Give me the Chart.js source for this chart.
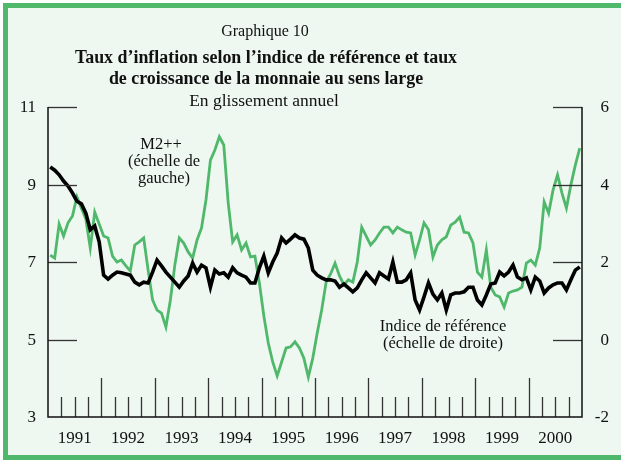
<!DOCTYPE html>
<html>
<head>
<meta charset="utf-8">
<script src="https://cdn.jsdelivr.net/npm/chart.js@4.4.1/dist/chart.umd.min.js"></script>
<style>
html,body{margin:0;padding:0;background:#fff;}
#wrap{position:relative;width:621px;height:460px;}
canvas{display:block;}
</style>
</head>
<body>
<div id="wrap"><canvas id="c" width="621" height="460"></canvas></div>
<script>
// ---- data ----
const years = [1991,1992,1993,1994,1995,1996,1997,1998,1999,2000];
const monthsPerYear = 12;
const leftTicks = [3,5,7,9,11];
const rightTicks = [-2,0,2,4,6];

// M2++ growth (left scale), monthly Jan 1991 - Dec 2000
const m2pp = [
 7.18,7.10,7.98,7.67,8.01,8.19,8.68,8.39,8.11,7.36,8.29,7.98,
 7.67,7.62,7.15,7.00,7.05,6.90,6.77,7.44,7.52,7.62,6.79,6.02,
 5.76,5.68,5.32,6.02,6.92,7.62,7.49,7.26,7.10,7.57,7.88,8.60,
 9.63,9.89,10.23,10.02,8.52,7.52,7.70,7.31,7.49,7.13,7.15,6.46,
 5.61,4.91,4.42,4.06,4.42,4.78,4.81,4.94,4.78,4.52,4.03,4.52,
 5.17,5.76,6.48,6.69,6.97,6.64,6.41,6.54,6.48,7.00,7.90,7.67,
 7.44,7.57,7.75,7.90,7.90,7.75,7.90,7.83,7.77,7.75,7.18,7.57,
 8.01,7.83,7.13,7.44,7.57,7.65,7.95,8.03,8.16,7.77,7.75,7.49,
 6.74,6.61,7.31,6.35,6.15,6.10,5.84,6.20,6.25,6.28,6.35,6.97,
 7.05,6.92,7.36,8.55,8.26,8.86,9.25,8.78,8.39,8.99,9.50,9.94
];
// Reference index inflation (right scale)
const refIndex = [
 4.45,4.37,4.25,4.09,3.96,3.78,3.57,3.50,3.26,2.83,2.93,2.52,
 1.66,1.56,1.66,1.74,1.72,1.69,1.66,1.48,1.41,1.48,1.46,1.74,
 2.05,1.90,1.74,1.61,1.48,1.35,1.51,1.64,1.97,1.74,1.92,1.85,
 1.35,1.79,1.69,1.72,1.61,1.85,1.72,1.66,1.61,1.46,1.46,1.85,
 2.15,1.72,2.00,2.23,2.62,2.49,2.59,2.70,2.62,2.59,2.36,1.79,
 1.66,1.59,1.54,1.54,1.51,1.35,1.43,1.33,1.23,1.33,1.54,1.72,
 1.59,1.46,1.72,1.64,1.56,2.00,1.48,1.48,1.54,1.72,1.02,0.76,
 1.10,1.46,1.17,1.02,1.20,0.76,1.15,1.20,1.20,1.23,1.35,1.35,
 1.02,0.89,1.15,1.43,1.46,1.74,1.64,1.74,1.92,1.61,1.54,1.59,
 1.28,1.61,1.51,1.20,1.33,1.41,1.46,1.46,1.28,1.54,1.79,1.87
];

const labels = [];
years.forEach(y => { for (let m = 1; m <= monthsPerYear; m++) labels.push(y + '-' + String(m).padStart(2,'0')); });

const GREEN = '#4fb86b';
const BG = '#eef7f0';
const SERIF = '"Liberation Serif", "DejaVu Serif", serif';

const decor = {
  id: 'decor',
  beforeDraw(chart) {
    const ctx = chart.ctx;
    ctx.save();
    ctx.fillStyle = '#ffffff';
    ctx.fillRect(0,0,chart.width,chart.height);
    ctx.fillStyle = BG;
    ctx.fillRect(3,3,chart.width-3,chart.height-3);
    ctx.fillStyle = GREEN;
    ctx.fillRect(3,3,chart.width-3,5);   // top
    ctx.fillRect(3,3,5,chart.height-3);  // left
    ctx.fillRect(3,chart.height-5,chart.width-3,5); // bottom
    ctx.restore();
  },
  afterDatasetsDraw(chart) {
    const ctx = chart.ctx;
    const a = chart.chartArea;
    const yL = chart.scales.y, yR = chart.scales.y2;
    const n = labels.length;
    const step = (a.right - a.left) / n;
    ctx.save();
    ctx.strokeStyle = '#333';
    ctx.lineWidth = 1.3;
    leftTicks.forEach(v => {
      if (v === leftTicks[0]) return;
      const py = Math.round(yL.getPixelForValue(v)) + 0.5;
      ctx.beginPath(); ctx.moveTo(a.left, py); ctx.lineTo(a.left + 29, py); ctx.stroke();
    });
    rightTicks.forEach(v => {
      if (v === rightTicks[0]) return;
      const py = Math.round(yR.getPixelForValue(v)) + 0.5;
      ctx.beginPath(); ctx.moveTo(a.right - 29, py); ctx.lineTo(a.right, py); ctx.stroke();
    });
    for (let k = 3; k < n; k += 3) {
      const px = Math.round(a.left + k * step) + 0.5;
      const len = (k % 12 === 0) ? 39 : 20;
      ctx.beginPath(); ctx.moveTo(px, a.bottom); ctx.lineTo(px, a.bottom - len); ctx.stroke();
    }
    ctx.strokeStyle = '#111';
    ctx.lineWidth = 1.5;
    ctx.beginPath();
    ctx.moveTo(a.left, a.top); ctx.lineTo(a.left, a.bottom); ctx.lineTo(a.right, a.bottom); ctx.lineTo(a.right, a.top);
    ctx.stroke();

    ctx.fillStyle = '#111';
    ctx.font = '17px ' + SERIF;
    ctx.textBaseline = 'middle';
    ctx.textAlign = 'right';
    leftTicks.forEach(v => ctx.fillText(String(v), 36, yL.getPixelForValue(v) + 1));
    rightTicks.forEach(v => ctx.fillText(String(v), 609, yR.getPixelForValue(v) + 1));
    ctx.textAlign = 'center';
    ctx.textBaseline = 'alphabetic';
    years.forEach((yr, j) => {
      const cx = a.left + (j * 12 + 6) * step;
      ctx.fillText(String(yr), cx, 443);
    });

    ctx.textAlign = 'center';
    ctx.font = '16px ' + SERIF;
    ctx.fillText('Graphique 10', 265, 36);
    ctx.font = 'bold 17.9px ' + SERIF;
    ctx.fillText('Taux d\u2019inflation selon l\u2019indice de r\u00e9f\u00e9rence et taux', 266, 63);
    ctx.fillText('de croissance de la monnaie au sens large', 266, 84);
    ctx.font = '17.5px ' + SERIF;
    ctx.fillText('En glissement annuel', 264, 106);

    ctx.font = '16.5px ' + SERIF;
    ctx.fillText('M2++', 161, 149);
    ctx.fillText('(\u00e9chelle de', 164, 166);
    ctx.fillText('gauche)', 164, 183);
    ctx.fillText('Indice de r\u00e9f\u00e9rence', 443, 331);
    ctx.fillText('(\u00e9chelle de droite)', 443, 348);
    ctx.restore();
  }
};

new Chart(document.getElementById('c'), {
  type: 'line',
  data: {
    labels: labels,
    datasets: [
      { label: 'Indice de référence', data: refIndex, yAxisID: 'y2', borderColor: '#000', borderWidth: 3.6,
        pointRadius: 0, tension: 0, order: 0, borderJoinStyle: 'miter' },
      { label: 'M2++', data: m2pp, yAxisID: 'y', borderColor: GREEN, borderWidth: 2.8,
        pointRadius: 0, tension: 0, order: 1, borderJoinStyle: 'miter' }
    ]
  },
  options: {
    responsive: false,
    animation: false,
    devicePixelRatio: 1,
    layout: { padding: { left: 48, right: 39, top: 107, bottom: 43 } },
    plugins: { legend: { display: false }, tooltip: { enabled: false }, title: { display: false } },
    scales: {
      x: { type: 'category', offset: true, display: false },
      y: { position: 'left', min: 3, max: 11, display: false },
      y2: { position: 'right', min: -2, max: 6, display: false }
    }
  },
  plugins: [decor]
});
</script>
</body>
</html>
